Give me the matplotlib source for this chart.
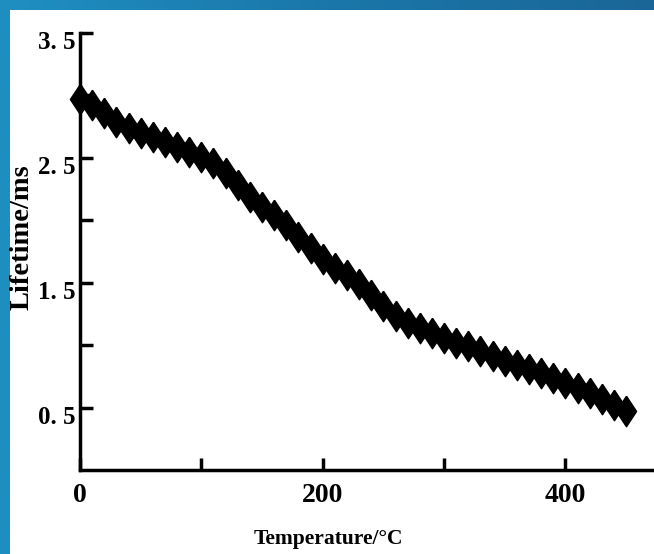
import numpy as np
import matplotlib
matplotlib.use('Agg')
from matplotlib import pyplot as plt
from matplotlib.transforms import ScaledTranslation
from matplotlib.patches import Rectangle
from matplotlib.colors import LinearSegmentedColormap

# data (temperature in C, lifetime in ms)
temps = [0, 10, 20, 30, 40, 50, 60, 70, 80, 90,
         100, 110, 120, 130, 140, 150, 160, 170, 180, 190,
         200, 210, 220, 230, 240, 250, 260, 270, 280, 290,
         300, 310, 320, 330, 340, 350, 360, 370, 380, 390,
         400, 410, 420, 430, 440, 450]
lifetime = [2.97, 2.92, 2.86, 2.79, 2.74, 2.70, 2.67, 2.63, 2.59, 2.55,
            2.51, 2.46, 2.38, 2.28, 2.19, 2.11, 2.04, 1.96, 1.87, 1.78,
            1.69, 1.62, 1.56, 1.49, 1.40, 1.31, 1.23, 1.18, 1.14, 1.10,
            1.06, 1.02, 0.99, 0.95, 0.91, 0.87, 0.84, 0.81, 0.78, 0.74,
            0.70, 0.66, 0.62, 0.57, 0.52, 0.47]
xtick_vals = [0, 200, 400]
xminor_vals = [100, 300]
ytick_vals = [0.5, 1.5, 2.5, 3.5]
ytick_labels = ['0. 5', '1. 5', '2. 5', '3. 5']
yminor_vals = [1.0, 2.0, 3.0]

serif = ['Liberation Serif', 'DejaVu Serif']

fig = plt.figure(figsize=(6.54, 5.54), dpi=100)

# blue slide background with white panel
bg = fig.add_axes([0, 0, 1, 1], zorder=-10)
grad = np.linspace(0, 1, 256)[None, :]
cmap = LinearSegmentedColormap.from_list('slide', ['#1f8fc2', '#1b77aa', '#1a6697'])
bg.imshow(grad, aspect='auto', cmap=cmap, extent=[0, 1, 0, 1])
bg.add_patch(Rectangle((10 / 654, 0), 1, (554 - 10) / 554, facecolor='white', edgecolor='none'))
bg.set_xlim(0, 1)
bg.set_ylim(0, 1)
bg.axis('off')

ax = fig.add_axes([80 / 654, 84 / 554, 574 / 654, 437 / 554])
ax.patch.set_alpha(0)

diamond = [(0, 1), (0.66, 0), (0, -1), (-0.66, 0), (0, 1)]
ax.plot(temps, lifetime, linestyle='none', marker=diamond, ms=22,
        color='black', clip_on=False)

ax.set_xlim(0, 473)
ax.set_ylim(0, 3.5)

for s in ['top', 'right']:
    ax.spines[s].set_visible(False)
for s in ['left', 'bottom']:
    ax.spines[s].set_linewidth(2.5)

ax.set_xticks(xtick_vals)
ax.set_xticklabels([str(v) for v in xtick_vals])
ax.set_xticks(xminor_vals, minor=True)
ax.set_yticks(ytick_vals)
ax.set_yticklabels(ytick_labels)
ax.set_yticks(yminor_vals, minor=True)

ax.tick_params(axis='both', which='both', direction='in', length=9, width=2.5)
ax.tick_params(axis='x', which='major', pad=9)
ax.tick_params(axis='y', which='major', pad=3)

for lab in ax.get_xticklabels():
    lab.set_family(serif)
    lab.set_fontsize(20)
    lab.set_fontweight('bold')
for lab in ax.get_yticklabels():
    lab.set_family(serif)
    lab.set_fontsize(18)
    lab.set_fontweight('bold')

# y labels sit a little below their ticks in the original
shift = ScaledTranslation(0, -7 / 100, fig.dpi_scale_trans)
for lab in ax.get_yticklabels():
    lab.set_transform(lab.get_transform() + shift)

ax.set_xlabel('Temperature/°C', family=serif, fontsize=15.5, fontweight='bold')
ax.xaxis.set_label_coords(0.432, -0.135)
ax.set_ylabel('Lifetime/ms', family=serif, fontsize=20.5, fontweight='bold')
ax.yaxis.set_label_coords(-0.08, 0.533)

fig.savefig('out.png', dpi=100)
